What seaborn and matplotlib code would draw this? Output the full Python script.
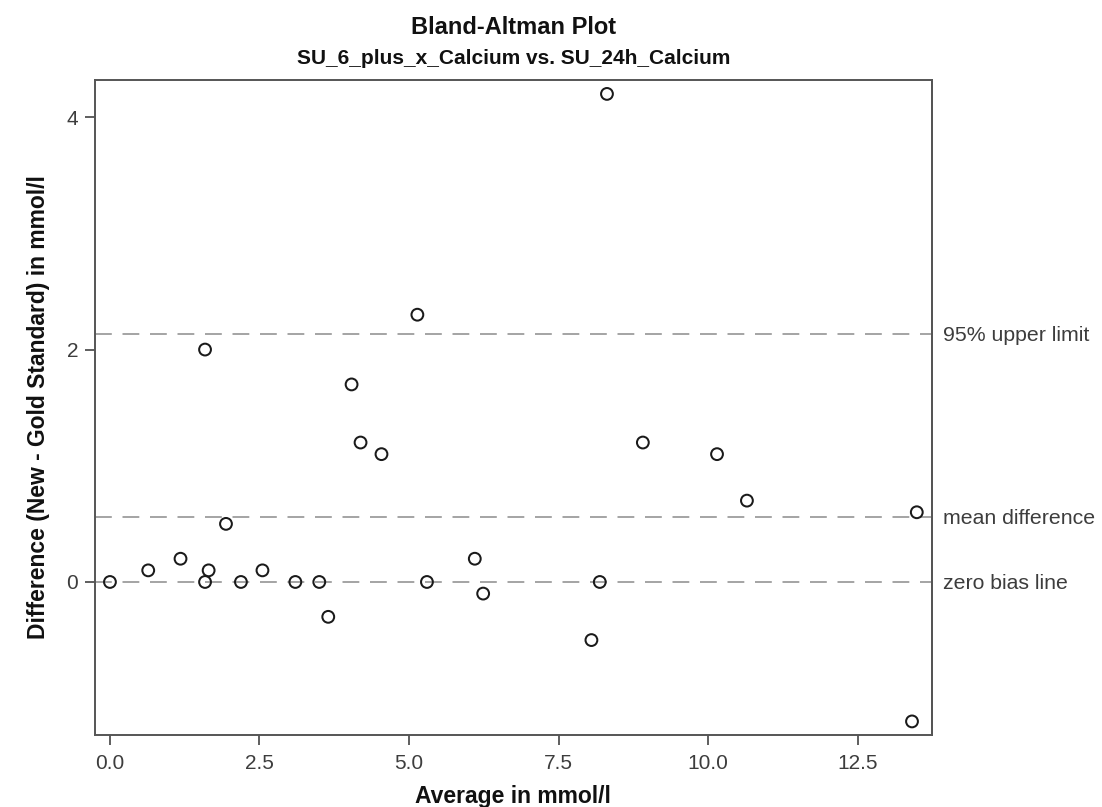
import numpy as np
import pandas as pd
import matplotlib
matplotlib.use("Agg")
import matplotlib.pyplot as plt
import seaborn as sns

# Bland-Altman data: mean of the two methods and their difference (mmol/l)
average = [0.0, 0.64, 1.18, 1.59, 1.59, 1.65, 1.94, 2.19, 2.55, 3.10, 3.50, 3.65,
           4.04, 4.19, 4.54, 5.14, 5.30, 6.10, 6.24, 8.05, 8.19, 8.31, 8.91,
           10.15, 10.65, 13.49, 13.41]
difference = [0.0, 0.1, 0.2, 2.0, 0.0, 0.1, 0.5, 0.0, 0.1, 0.0, 0.0, -0.3,
              1.7, 1.2, 1.1, 2.3, 0.0, 0.2, -0.1, -0.5, 0.0, 4.2, 1.2,
              1.1, 0.7, 0.6, -1.2]
upper_limit = 2.134
x_ticks = [0.0, 2.5, 5.0, 7.5, 10.0, 12.5]
y_ticks = [0, 2, 4]
ref_labels = ["95% upper limit", "mean difference", "zero bias line"]

df = pd.DataFrame({"average": average, "difference": difference})
mean_diff = float(np.mean(difference))

sns.set_style("white")
plt.rcParams["font.family"] = ["Liberation Sans", "DejaVu Sans"]

fig = plt.figure(figsize=(11.02, 8.07), dpi=100)
ax_left, ax_w = 0.0862, 0.7593
ax = fig.add_axes([ax_left, 0.0892, ax_w, 0.8117])

# reference lines: upper limit of agreement, mean difference, zero bias
line_kw = dict(color="#8c8c8c", lw=1.1, ls=(0, (11.0, 7.0)), zorder=1)
for val in (upper_limit, mean_diff, 0.0):
    ax.axhline(val, **line_kw)

sns.scatterplot(data=df, x="average", y="difference", ax=ax,
                marker="o", s=72, facecolor="none", edgecolor="#1a1a1a",
                linewidth=1.45, zorder=3, legend=False)

ax.set_xlim(-0.25, 13.74)
ax.set_ylim(-1.317, 4.32)
ax.set_xticks(x_ticks)
ax.set_xticklabels([f"{v:.1f}" for v in x_ticks])
ax.set_yticks(y_ticks)
ax.set_yticklabels([str(v) for v in y_ticks])

text_col = "#3d3d3d"
ax.tick_params(axis="both", labelsize=15, colors=text_col, direction="out",
               length=7, width=1.1, color="#333333")
ax.tick_params(axis="x", pad=7)
ax.tick_params(axis="y", pad=5)
ax.tick_params(left=True, bottom=True)

for sp in ax.spines.values():
    sp.set_visible(True)
    sp.set_color("#555555")
    sp.set_linewidth(1.4)

ax.set_xlabel("Average in mmol/l", fontsize=16.5, fontweight="bold",
              color="#111111", labelpad=8)
ax.set_ylabel("Difference (New - Gold Standard) in mmol/l", fontsize=16.5,
              fontweight="bold", color="#111111", labelpad=12)

# names of the reference lines on the right side
ax2 = ax.twinx()
ax2.set_ylim(ax.get_ylim())
ax2.set_yticks([upper_limit, mean_diff, 0.0])
ax2.set_yticklabels(ref_labels)
ax2.tick_params(axis="y", length=0, pad=8, labelsize=15.3, colors=text_col)
for name, sp in ax2.spines.items():
    sp.set_visible(name == "right")
ax2.spines["right"].set_color("#555555")
ax2.spines["right"].set_linewidth(1.4)

cx = ax_left + ax_w / 2
fig.text(cx, 1 - 34.5 / 807, "Bland-Altman Plot", ha="center", va="baseline",
         fontsize=17, fontweight="bold", color="#111111")
fig.text(cx, 1 - 63.5 / 807, "SU_6_plus_x_Calcium vs. SU_24h_Calcium",
         ha="center", va="baseline", fontsize=15, fontweight="bold",
         color="#111111")

fig.savefig("out.png", dpi=100, facecolor="white")
